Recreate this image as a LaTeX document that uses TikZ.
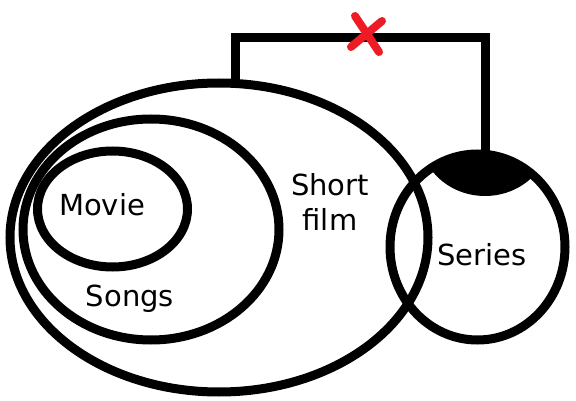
\documentclass[tikz,border=0pt]{standalone}
\usepackage{fontspec}
\setmainfont{DejaVu Sans}
\usetikzlibrary{shapes.geometric, calc}
\definecolor{xred}{HTML}{ED1C24}

\begin{document}
\begin{tikzpicture}[x=1pt, y=-1pt,
  setbox/.style={draw, ellipse, line width=9pt, inner sep=0pt, outer sep=0pt},
  lbl/.style={font=\fontsize{29}{35}\selectfont, inner sep=0pt, anchor=base, align=center},
  link/.style={line width=9pt},
  cross/.style={draw=xred, line width=8pt, line cap=round}
]
  \useasboundingbox (0,0) rectangle (576,401);

  % black cap on top of Series
  \begin{scope}
    \clip (477.5,247) ellipse [x radius=87.5pt, y radius=93pt];
    \fill (425,160) .. controls (450,208) and (520,208) .. (545,160) -- (545,140) -- (425,140) -- cycle;
  \end{scope}

  \node[setbox, minimum width=418pt, minimum height=309pt] (short) at (219,237.5) {};
  \node[setbox, minimum width=256pt, minimum height=221pt] (songs) at (151,229.5) {};
  \node[setbox, minimum width=150pt, minimum height=116pt] (movie) at (112.5,209) {};
  \node[setbox, minimum width=175pt, minimum height=186pt] (series) at (477.5,247) {};

  \node[lbl] (movielbl) at (102,215) {Movie};
  \node[lbl] (songslbl) at (130,306) {Songs};
  \node[lbl] (shortlbl) at (330,230) {Short\\film};
  \node[lbl] (serieslbl) at (482,265) {Series};

  % link from Short film to Series, cut by the red cross
  \coordinate (cut) at (367,38);
  \draw[link] (short.84) -- (short.84 |- cut) -| (series.85);
  \draw[cross] ($(cut)+(-12,-22)$) -- ($(cut)+(12,14)$);
  \draw[cross] ($(cut)+(15,-17)$) -- ($(cut)+(-16,9)$);
\end{tikzpicture}
\end{document}
